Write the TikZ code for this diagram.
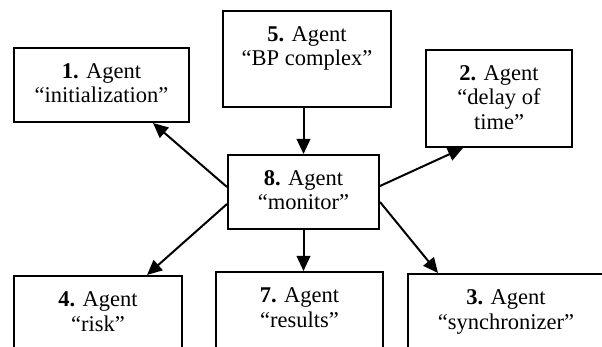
\documentclass[tikz,border=0pt]{standalone}
\usepackage{fontspec}
\setmainfont{Liberation Serif}
\usetikzlibrary{arrows.meta}
\newcommand{\agt}[3]{\parbox[c][#2][t]{#1}{\centering\fontsize{22.5}{24.5}\selectfont\rule{0pt}{30.5pt}#3\par}}
\begin{document}
\begin{tikzpicture}[x=1pt,y=-1pt,
  agentbox/.style={draw=black, line width=2pt, inner sep=0pt, fill=white},
  link/.style={line width=2pt, -{Triangle[length=15pt,width=13.5pt]}}]
\useasboundingbox (0,0) rectangle (602,347);
\clip (0,0) rectangle (602,347);
\fill[white] (0,0) rectangle (602,347);
\node[agentbox] (b1) at (101.5,85) {\agt{175pt}{74pt}{\textbf{1.} Agent\\“initialization”}};
\node[agentbox] (b5) at (307,59) {\agt{168pt}{96pt}{\textbf{5.} Agent\\“BP complex”}};
\node[agentbox] (b2) at (499,98.5) {\agt{146pt}{97pt}{\textbf{2.} Agent\\“delay of\\time”}};
\node[agentbox] (b8) at (303.5,192) {\agt{151pt}{74pt}{\textbf{8.} Agent\\“monitor”}};
\node[agentbox] (b4) at (98,323) {\agt{168pt}{94pt}{\textbf{4.} Agent\\“risk”}};
\node[agentbox] (b7) at (299.5,321) {\agt{167pt}{98pt}{\textbf{7.} Agent\\“results”}};
\node[agentbox] (b3) at (506,322) {\agt{196pt}{96pt}{\textbf{3.} Agent\\“synchronizer”}};
\draw[link] (b8.north |- b5.south) -- (b8.north);
\draw[link] (b8.south) -- (b8.south |- b7.north);
\draw[link] ([yshift=5pt]b8.west) -- ([xshift=51.5pt]b1.south);
\draw[link] ([yshift=6pt]b8.east) -- ([xshift=-36pt]b2.south);
\draw[link] ([yshift=-12pt]b8.west) -- ([xshift=49pt]b4.north);
\draw[link] ([yshift=-10pt]b8.east) -- ([xshift=-68pt]b3.north);
\end{tikzpicture}
\end{document}
